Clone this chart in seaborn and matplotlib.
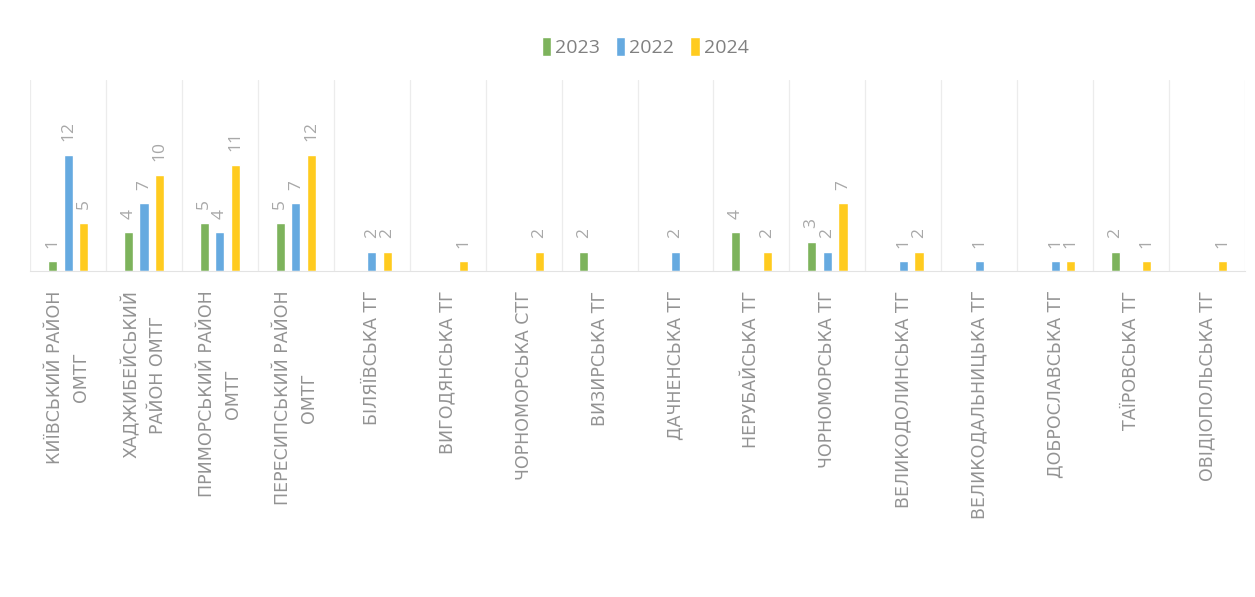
import numpy as np
import pandas as pd
import matplotlib
matplotlib.use("Agg")
import matplotlib.pyplot as plt
import seaborn as sns

# ---- data ----
categories = [
    "КИЇВСЬКИЙ РАЙОН\nОМТГ",
    "ХАДЖИБЕЙСЬКИЙ\nРАЙОН ОМТГ",
    "ПРИМОРСЬКИЙ РАЙОН\nОМТГ",
    "ПЕРЕСИПСЬКИЙ РАЙОН\nОМТГ",
    "БІЛЯЇВСЬКА ТГ",
    "ВИГОДЯНСЬКА ТГ",
    "ЧОРНОМОРСЬКА СТГ",
    "ВИЗИРСЬКА ТГ",
    "ДАЧНЕНСЬКА ТГ",
    "НЕРУБАЙСЬКА ТГ",
    "ЧОРНОМОРСЬКА ТГ",
    "ВЕЛИКОДОЛИНСЬКА ТГ",
    "ВЕЛИКОДАЛЬНИЦЬКА ТГ",
    "ДОБРОСЛАВСЬКА ТГ",
    "ТАЇРОВСЬКА ТГ",
    "ОВІДІОПОЛЬСЬКА ТГ",
]
years = ["2023", "2022", "2024"]
v2023 = [1, 4, 5, 5, np.nan, np.nan, np.nan, 2, np.nan, 4, 3, np.nan, np.nan, np.nan, 2, np.nan]
v2022 = [12, 7, 4, 7, 2, np.nan, np.nan, np.nan, 2, np.nan, 2, 1, 1, 1, np.nan, np.nan]
v2024 = [5, 10, 11, 12, 2, 1, 2, np.nan, np.nan, 2, 7, 2, np.nan, 1, 1, 1]
colors = ["#7db35c", "#66aae0", "#ffcb1f"]

df = pd.DataFrame({"cat": categories * 3,
                   "year": [y for y in years for _ in categories],
                   "value": v2023 + v2022 + v2024})
df["cat"] = pd.Categorical(df["cat"], categories=categories, ordered=True)
df = df.dropna()

sns.set_style("white")
plt.rcParams["font.family"] = ["Open Sans", "DejaVu Sans"]

fig = plt.figure(figsize=(12.55, 5.97), dpi=100)
ax = fig.add_axes([0.024, 0.546, 0.968, 0.32])

sns.barplot(data=df, x="cat", y="value", hue="year", hue_order=years,
            order=categories, palette=colors, width=0.62, gap=0.42,
            saturation=1, ax=ax, legend=True)

for c in ax.containers:
    ax.bar_label(c, labels=[f"{v:g}" for v in c.datavalues], rotation=90,
                 padding=10, fontsize=12.5, color="#a8a8a8")

ax.set_ylim(0, 19.8)
ax.set_xlim(-0.5, len(categories) - 0.5)
ax.set_yticks([])
ax.set_xlabel("")
ax.set_ylabel("")
ax.tick_params(axis="x", length=0, pad=14)
for lab in ax.get_xticklabels():
    lab.set_rotation(90)
    lab.set_family(["DejaVu Sans"])
    lab.set_fontsize(12.5)
    lab.set_color("#939393")
    lab.set_linespacing(1.6)
    lab.set_multialignment("center")

# category separators
ax.set_xticks(np.arange(-0.5, len(categories), 1), minor=True)
ax.tick_params(axis="x", which="minor", length=0)
ax.grid(which="minor", axis="x", color="#ececec", linewidth=0.9)
for s in ["top", "right", "left"]:
    ax.spines[s].set_visible(False)
ax.spines["bottom"].set_color("#e3e3e3")

leg = ax.legend(loc="center", bbox_to_anchor=(0.514, 0.921),
                bbox_transform=fig.transFigure, ncol=3, frameon=False,
                fontsize=14, handlelength=0.5, handleheight=1.1,
                handletextpad=0.2, columnspacing=0.8)
for t in leg.get_texts():
    t.set_color("#808080")

fig.savefig("out.png", dpi=100, facecolor="white")
